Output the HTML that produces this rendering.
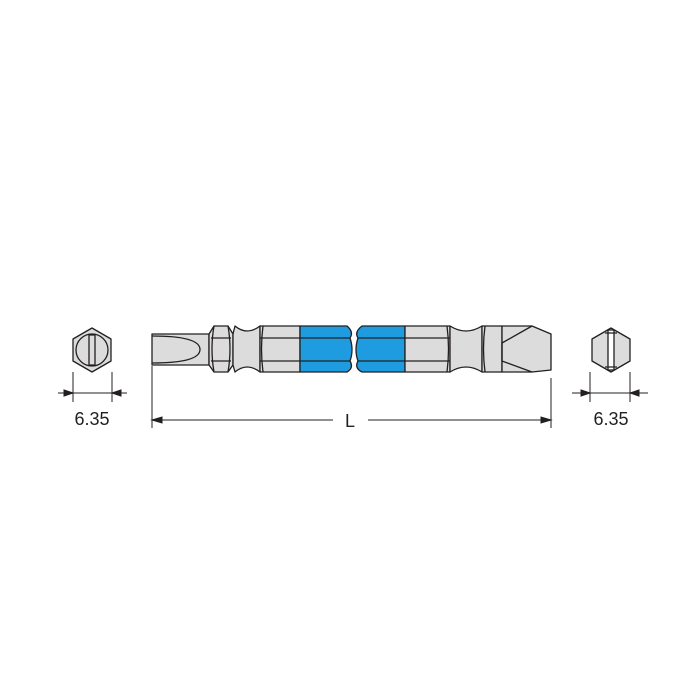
<!DOCTYPE html>
<html><head><meta charset="utf-8"><style>html,body{margin:0;padding:0;background:#fff}svg{display:block}</style></head>
<body>
<svg width="700" height="700" viewBox="0 0 700 700" xmlns="http://www.w3.org/2000/svg" font-family="Liberation Sans, sans-serif">
<g stroke="#231f20" stroke-width="1.3" fill="#dcdcdc" stroke-linejoin="round">
<polygon points="92,328 111,339 111,361 92,372 73,361 73,339"/>
<circle cx="92" cy="350" r="16"/>
<rect x="89" y="335" width="6" height="30" fill="#dcdcdc"/>
<rect x="152" y="334" width="57" height="31"/>
<path d="M152,336 Q200,336 200,349.5 Q200,363 152,363" fill="none"/>
<path d="M209,334 L214,326 L228,326 L233,334 L233,365 L228,372 L214,372 L209,365 Z"/>
<path d="M214,326 Q210,349 214,372 M228,326 Q232,349 228,372 M211,338 L231,338 M211,361 L231,361" fill="none"/>
<path d="M233,334 L235,326 Q247,336 260,326 L260,372 Q247,362 235,372 L233,365 Z"/>
<rect x="260" y="326" width="40" height="46"/>
<path d="M300,326 L347,326 Q354,332 350,338 Q354,350 350,361 Q354,368 347,372 L300,372 Z" fill="#1f9ce0"/>
<path d="M260,338 L350,338 M260,361 L350,361" fill="none"/>
<path d="M263,326 Q260,349 263,372" fill="none"/>
<path d="M362,326 L405,326 L405,372 L362,372 Q354,368 358,361 Q354,350 358,338 Q354,332 362,326 Z" fill="#1f9ce0"/>
<rect x="405" y="326" width="45" height="46"/>
<path d="M358,338 L450,338 M358,361 L450,361" fill="none"/>
<path d="M450,326 Q466,336 482,326 L482,372 Q466,362 450,372 Z"/>
<path d="M447,326 Q450,349 447,372" fill="none"/>
<rect x="482" y="326" width="20" height="46"/>
<path d="M485,326 Q482,349 485,372" fill="none"/>
<path d="M502,326 L532,326 L551,334 L551,370 L532,372 L502,372 Z"/>
<path d="M502,343 L532,326 M502,361 L532,372 M502,343 L502,361" fill="none"/>
<polygon points="611,328 630,339 630,361 611,372 592,361 592,339"/>
<path d="M608,330 L614,330 L614,370 L608,370 Z" fill="#fff"/>
<path d="M605,333 L617,333 M605,367 L617,367" fill="none"/>
</g>
<g stroke="#231f20" stroke-width="1" fill="#231f20">
<line x1="73" y1="372" x2="73" y2="402"/><line x1="112" y1="372" x2="112" y2="402"/>
<line x1="58" y1="393" x2="127" y2="393"/>
<polygon points="73,393 64,390 64,396"/><polygon points="112,393 121,390 121,396"/>
<line x1="590" y1="372" x2="590" y2="402"/><line x1="630" y1="372" x2="630" y2="402"/>
<line x1="572" y1="393" x2="648" y2="393"/>
<polygon points="590,393 581,390 581,396"/><polygon points="630,393 639,390 639,396"/>
<line x1="152" y1="366" x2="152" y2="428"/><line x1="551" y1="378" x2="551" y2="428"/>
<line x1="152" y1="420" x2="333" y2="420"/><line x1="368" y1="420" x2="551" y2="420"/>
<polygon points="152,420 162,417 162,423"/><polygon points="551,420 541,417 541,423"/>
</g>
<g fill="#231f20" font-size="18" text-anchor="middle">
<text x="92" y="425">6.35</text>
<text x="611" y="425">6.35</text>
<text x="350" y="427">L</text>
</g>
</svg>
</body></html>
